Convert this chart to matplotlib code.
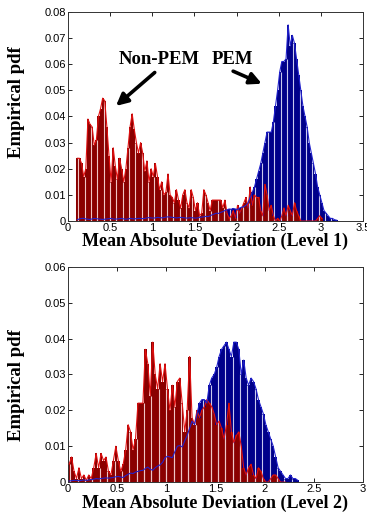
import numpy as np
import matplotlib
matplotlib.use('Agg')
import matplotlib.pyplot as plt
import matplotlib.ticker as mticker

# ---- data: empirical pdf per bin (bin width 0.025) ----
bin_w = 0.025

top_red_start = 0.1
top_red = [0.024, 0.024, 0.022, 0.017, 0.020, 0.039, 0.037, 0.036, 0.029, 0.031,
           0.040, 0.043, 0.047, 0.046, 0.036, 0.025, 0.015, 0.028, 0.021, 0.016,
           0.024, 0.020, 0.015, 0.020, 0.028, 0.036, 0.041, 0.035, 0.030, 0.026,
           0.030, 0.026, 0.019, 0.023, 0.015, 0.020, 0.017, 0.022, 0.017, 0.012,
           0.015, 0.010, 0.011, 0.018, 0.010, 0.009, 0.007, 0.012, 0.008, 0.005,
           0.010, 0.012, 0.007, 0.005, 0.012, 0.009, 0.004, 0.007, 0.002, 0.003,
           0.012, 0.010, 0.007, 0.004, 0.008, 0.008, 0.008, 0.008, 0.008, 0.005,
           0.008, 0.003, 0.001, 0.002, 0.004, 0.001, 0.006, 0.003, 0.005, 0.007,
           0.009, 0.005, 0.013, 0.006, 0.010, 0.009, 0.009, 0.004, 0.002, 0.014,
           0.010, 0.004, 0.006, 0.002, 0.000, 0.001, 0.000, 0.002, 0.005, 0.002,
           0.006, 0.004, 0.002, 0.007, 0.004, 0.002, 0.000, 0.000, 0.000, 0.000,
           0.000, 0.000, 0.000, 0.000, 0.001, 0.002, 0.001]

top_blue_start = 0.1
top_blue = [0.0005, 0.0008, 0.0010, 0.0010, 0.0008, 0.0007, 0.0006, 0.0008, 0.0010, 0.0009,
            0.0008, 0.0007, 0.0006, 0.0007, 0.0008, 0.0009, 0.0010, 0.0008, 0.0007, 0.0008,
            0.0009, 0.0010, 0.0008, 0.0007, 0.0008, 0.0010, 0.0009, 0.0008, 0.0009, 0.0010,
            0.0010, 0.0009, 0.0010, 0.0012, 0.0013, 0.0012, 0.0011, 0.0012, 0.0014, 0.0013,
            0.0012, 0.0013, 0.0015, 0.0016, 0.0015, 0.0014, 0.0013, 0.0012, 0.0013, 0.0014,
            0.0013, 0.0012, 0.0011, 0.0012, 0.0013, 0.0012, 0.0011, 0.0012, 0.0014, 0.0015,
            0.0016, 0.0018, 0.0017, 0.0020, 0.0024, 0.0027, 0.0030, 0.0029, 0.0033, 0.0036,
            0.0040, 0.0043, 0.0046, 0.0045, 0.0048, 0.0046, 0.0044, 0.0050, 0.0053, 0.0055,
            0.006, 0.007, 0.009, 0.011, 0.013, 0.016, 0.019, 0.022, 0.026, 0.030,
            0.034, 0.034, 0.034, 0.038, 0.044, 0.050, 0.057, 0.061, 0.061, 0.062,
            0.075, 0.067, 0.071, 0.068, 0.062, 0.056, 0.050, 0.044, 0.040, 0.036,
            0.030, 0.026, 0.022, 0.018, 0.013, 0.010, 0.007, 0.004, 0.003, 0.002,
            0.001, 0.001, 0.0005, 0.0003]

bot_red_start = 0.0
bot_red = [0.005, 0.007, 0.003, 0.001, 0.004, 0.001, 0.002, 0.0005, 0.002, 0.001,
           0.004, 0.008, 0.004, 0.008, 0.006, 0.007, 0.003, 0.002, 0.006, 0.010,
           0.006, 0.003, 0.005, 0.009, 0.016, 0.014, 0.009, 0.012, 0.022, 0.022,
           0.022, 0.037, 0.033, 0.024, 0.039, 0.030, 0.026, 0.033, 0.028, 0.033,
           0.026, 0.020, 0.027, 0.021, 0.028, 0.029, 0.022, 0.014, 0.020, 0.035,
           0.018, 0.016, 0.020, 0.018, 0.020, 0.021, 0.023, 0.022, 0.021, 0.019,
           0.016, 0.017, 0.015, 0.012, 0.016, 0.022, 0.014, 0.011, 0.013, 0.014,
           0.010, 0.004, 0.002, 0.004, 0.005, 0.002, 0.001, 0.004, 0.003, 0.001,
           0.000, 0.000, 0.001, 0.002, 0.002, 0.001, 0.000, 0.000, 0.000]

bot_blue_start = 0.0
bot_blue = [0.0003, 0.0004, 0.0005, 0.0005, 0.0004, 0.0005, 0.0006, 0.0005, 0.0006, 0.0007,
            0.0008, 0.0010, 0.0009, 0.0010, 0.0011, 0.0012, 0.0011, 0.0012, 0.0013, 0.0015,
            0.0016, 0.0014, 0.0013, 0.0018, 0.0022, 0.0025, 0.0024, 0.0028, 0.0030, 0.0032,
            0.0033, 0.0038, 0.0042, 0.0036, 0.0033, 0.0040, 0.0045, 0.0048, 0.0055, 0.0068,
            0.0072, 0.0070, 0.0068, 0.0085, 0.0100, 0.0102, 0.0098, 0.0115, 0.0130, 0.0150,
            0.017, 0.016, 0.019, 0.022, 0.023, 0.023, 0.022, 0.027, 0.029, 0.030,
            0.032, 0.035, 0.037, 0.038, 0.039, 0.037, 0.035, 0.039, 0.039, 0.037,
            0.030, 0.034, 0.029, 0.027, 0.029, 0.028, 0.026, 0.023, 0.021, 0.019,
            0.016, 0.014, 0.012, 0.010, 0.007, 0.004, 0.003, 0.002, 0.001, 0.001,
            0.002, 0.001, 0.001, 0.0005]

red_fill, red_line, red_stripe = '#8a0000', '#e01010', '#f0c4c4'
blue_fill, blue_line, blue_stripe = '#00008a', '#2222cc', '#c8c8ee'


def draw_hist(ax, start, vals, fill, line, stripe):
    v = np.array(vals)
    left = start + np.arange(len(v)) * bin_w
    ax.bar(left, v, width=bin_w, align='edge', color=fill, edgecolor='none', zorder=2)
    # light stripes between some bins (as in the original raster)
    ax.vlines(left[1::3], 0, np.minimum(v[1::3], v[0:-1:3][:len(v[1::3])]),
              color=stripe, linewidth=0.8, zorder=2.5)
    return left + bin_w / 2, v


def style(ax, xmax, ymax, xlabel, ylab_y):
    ax.set_xlim(0, xmax)
    ax.set_ylim(0, ymax)
    ax.xaxis.set_major_locator(mticker.MultipleLocator(0.5))
    ax.yaxis.set_major_locator(mticker.MultipleLocator(0.01))
    fmt = mticker.FuncFormatter(lambda v, p: '%g' % round(v, 3))
    ax.xaxis.set_major_formatter(fmt)
    ax.yaxis.set_major_formatter(fmt)
    ax.tick_params(direction='in', top=True, right=True, length=3, width=0.6,
                   labelsize=8, pad=1.5)
    for lab in ax.get_xticklabels() + ax.get_yticklabels():
        lab.set_family('Liberation Sans')
    for s in ax.spines.values():
        s.set_linewidth(0.7)
        s.set_color('#333333')
    ax.set_xlabel(xlabel, family='Liberation Serif', fontweight='bold', fontsize=13, labelpad=0)
    ax.set_ylabel('Empirical pdf', family='Liberation Serif', fontweight='bold', fontsize=13.5)
    ax.yaxis.set_label_coords(-0.145, ylab_y)


fig = plt.figure(figsize=(3.67, 5.14), dpi=100)
ax1 = fig.add_axes([0.185, 0.570, 0.804, 0.407])
ax2 = fig.add_axes([0.185, 0.062, 0.804, 0.419])

# ---- top: Level 1 ----
bx, bv = draw_hist(ax1, top_blue_start, top_blue, blue_fill, blue_line, blue_stripe)
rx, rv = draw_hist(ax1, top_red_start, top_red, red_fill, red_line, red_stripe)
ax1.plot(rx, rv, color=red_line, linewidth=0.8, zorder=3)
ax1.plot(bx, bv, color=blue_line, linewidth=0.8, zorder=3.5)
style(ax1, 3.5, 0.08, 'Mean Absolute Deviation (Level 1)', 0.57)

ax1.text(1.08, 0.0616, 'Non-PEM', family='Liberation Serif', fontweight='bold',
         fontsize=13.5, ha='center', va='center')
ax1.text(1.95, 0.0616, 'PEM', family='Liberation Serif', fontweight='bold',
         fontsize=13.5, ha='center', va='center')
ax1.annotate('', xy=(0.57, 0.0440), xytext=(1.03, 0.0568),
             arrowprops=dict(arrowstyle='-|>,head_length=0.7,head_width=0.35',
                             color='black', lw=2.6, shrinkA=0, shrinkB=0))
ax1.annotate('', xy=(2.30, 0.0525), xytext=(1.96, 0.0573),
             arrowprops=dict(arrowstyle='-|>,head_length=0.7,head_width=0.35',
                             color='black', lw=2.6, shrinkA=0, shrinkB=0))

# ---- bottom: Level 2 ----
bx, bv = draw_hist(ax2, bot_blue_start, bot_blue, blue_fill, blue_line, blue_stripe)
rx, rv = draw_hist(ax2, bot_red_start, bot_red, red_fill, red_line, red_stripe)
ax2.plot(rx, rv, color=red_line, linewidth=0.8, zorder=3)
ax2.plot(bx, bv, color=blue_line, linewidth=0.8, zorder=3.5)
style(ax2, 3.0, 0.06, 'Mean Absolute Deviation (Level 2)', 0.45)

fig.savefig('out.png', dpi=100)
print('saved out.png')
